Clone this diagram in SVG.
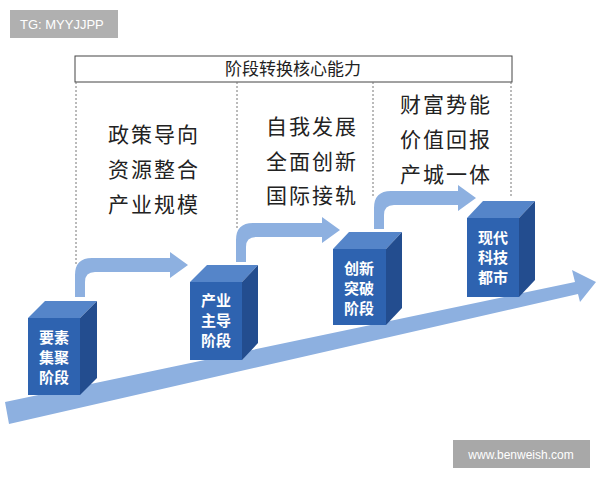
<svg xmlns="http://www.w3.org/2000/svg" width="600" height="480" viewBox="0 0 600 480">
<style>
.f{fill:#2e63b0}.t{fill:#5585c9}.s{fill:#234d8f}
.bt{font-family:"Noto Sans CJK SC",serif;font-size:15px;font-weight:bold;fill:#fff;text-anchor:middle}
.ct{font-family:"Noto Sans CJK SC",serif;font-size:21px;fill:#222;letter-spacing:2px}
.arw{fill:#8db0e0}
.dl{stroke:#777;stroke-dasharray:2,2;stroke-width:1}
</style>
<rect width="600" height="480" fill="#fff"/>
<g id="wm1"><rect x="10" y="10" width="108" height="28" fill="#b0b0b0"/><text x="20" y="29" font-family="Liberation Sans,sans-serif" font-size="13" fill="#fff">TG: MYYJJPP</text></g>
<g id="title"><rect x="75" y="56" width="437" height="26" fill="#fff" stroke="#444"/><text x="293" y="75" font-family="Noto Sans CJK SC,serif" font-size="17" text-anchor="middle" fill="#222">阶段转换核心能力</text></g>
<g id="dots"><line class="dl" x1="76" y1="82" x2="76" y2="265"/><line class="dl" x1="237" y1="82" x2="237" y2="230"/><line class="dl" x1="373" y1="82" x2="373" y2="198"/><line class="dl" x1="511" y1="82" x2="511" y2="198"/></g>
<g id="connectors">
<polygon class="arw" points="5,402 575,282 572,270 596,282 580,302 578,294 9,424"/>
<path class="arw" d="M75,297 V275 Q75,258 92,258 H170 V252 L188,265 L170,278 V272 H95 Q85,272 85,282 V297 Z"/>
<path class="arw" d="M236,262 V240 Q236,223 253,223 H322 V217 L340,230 L322,243 V237 H256 Q246,237 246,247 V262 Z"/>
<path class="arw" d="M374,229 V208 Q374,191 391,191 H458 V185 L476,198 L458,211 V205 H394 Q384,205 384,215 V229 Z"/>
</g>
<g id="col1"><text class="ct" x="108" y="142">政策导向</text><text class="ct" x="108" y="177">资源整合</text><text class="ct" x="108" y="212">产业规模</text></g>
<g id="col2"><text class="ct" x="266" y="134">自我发展</text><text class="ct" x="266" y="169">全面创新</text><text class="ct" x="266" y="203">国际接轨</text></g>
<g id="col3"><text class="ct" x="400" y="112">财富势能</text><text class="ct" x="400" y="147">价值回报</text><text class="ct" x="400" y="182">产城一体</text></g>
<g id="box1"><polygon class="t" points="28,318 45,301 97,301 80,318"/><polygon class="s" points="80,318 97,301 97,378 80,395"/><rect class="f" x="28" y="318" width="52" height="77"/><text class="bt" x="54" y="343">要素</text><text class="bt" x="54" y="363">集聚</text><text class="bt" x="54" y="383">阶段</text></g>
<g id="box2"><polygon class="t" points="190,282 207,265 258,265 242,282"/><polygon class="s" points="242,282 258,265 258,343 242,360"/><rect class="f" x="190" y="282" width="52" height="78"/><text class="bt" x="216" y="306">产业</text><text class="bt" x="216" y="326">主导</text><text class="bt" x="216" y="346">阶段</text></g>
<g id="box3"><polygon class="t" points="333,249 349,232 402,232 386,249"/><polygon class="s" points="386,249 402,232 402,308 386,325"/><rect class="f" x="333" y="249" width="53" height="76"/><text class="bt" x="359" y="274">创新</text><text class="bt" x="359" y="294">突破</text><text class="bt" x="359" y="314">阶段</text></g>
<g id="box4"><polygon class="t" points="467,218 483,201 535,201 519,218"/><polygon class="s" points="519,218 535,201 535,280 519,297"/><rect class="f" x="467" y="218" width="52" height="79"/><text class="bt" x="493" y="243">现代</text><text class="bt" x="493" y="263">科技</text><text class="bt" x="493" y="283">都市</text></g>
<g id="wm2"><rect x="453" y="440" width="137" height="28" fill="#a8a8a8"/><text x="521" y="459" font-family="Liberation Sans,sans-serif" font-size="12" fill="#fff" text-anchor="middle">www.benweish.com</text></g>
</svg>
